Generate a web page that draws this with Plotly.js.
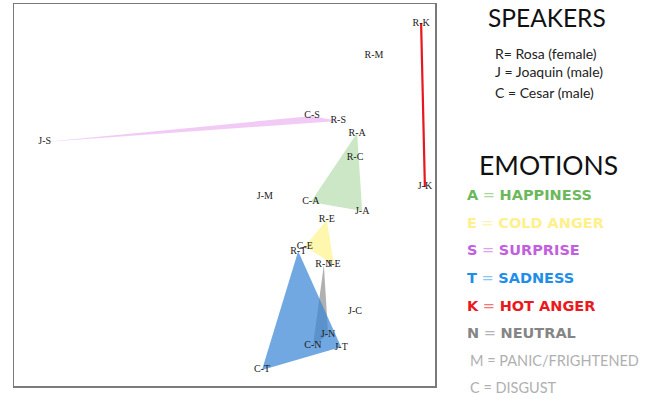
<!DOCTYPE html>
<html>
<head>
<meta charset="utf-8">
<script src="https://cdn.plot.ly/plotly-3.0.1.min.js"></script>
<style>
  body { margin: 0; background: #fff; }
  #myDiv { width: 658px; height: 399px; }
</style>
</head>
<body>
<div id="myDiv"></div>
<script>
// speaker-emotion points (arbitrary units)
var labels = ["R-K", "R-M", "C-S", "R-S", "R-A", "J-S", "R-C", "J-K", "J-M", "C-A", "J-A",
  "R-E", "C-E", "R-T", "R-N", "J-E", "J-C", "J-N", "C-N", "J-T", "C-T"];
var xs = [96.7, 85.5, 70.8, 77.0, 81.5, 7.3, 81.0, 97.6, 59.6, 70.5, 82.7,
  74.3, 69.1, 67.5, 73.6, 76.0, 81.0, 74.6, 71.0, 77.7, 58.9];
var ys = [95.0, 86.4, 70.7, 69.4, 66.2, 63.9, 59.9, 52.1, 49.7, 48.2, 45.8,
  43.5, 36.6, 35.3, 31.7, 31.7, 19.6, 13.6, 10.5, 10.2, 4.2];

// emotion groups: which points make each shape
var happiness = ["R-A", "C-A", "J-A"];
var coldAnger = ["R-E", "C-E", "J-E"];
var surprise = ["J-S", "C-S", "R-S"];
var neutral = ["R-N", "C-N", "J-N"];
var sadness = ["R-T", "C-T", "J-T"];
var hotAnger = ["R-K", "J-K"];

function pts(names) {
  var px = [], py = [];
  for (var i = 0; i < names.length; i++) {
    var k = labels.indexOf(names[i]);
    px.push(xs[k]);
    py.push(ys[k]);
  }
  return { x: px, y: py };
}

function shape(names, color) {
  var p = pts(names);
  return {
    x: p.x, y: p.y,
    mode: "lines",
    type: "scatter",
    fill: "toself",
    fillcolor: color,
    line: { width: 0, color: color },
    hoverinfo: "skip"
  };
}

var k = pts(hotAnger);
var data = [
  shape(surprise, "rgba(236,185,243,0.75)"),
  shape(happiness, "rgba(160,212,150,0.55)"),
  shape(coldAnger, "rgba(255,242,130,0.65)"),
  shape(neutral, "rgba(150,150,150,0.75)"),
  shape(sadness, "rgba(60,135,215,0.72)"),
  {
    x: k.x, y: k.y,
    mode: "lines",
    type: "scatter",
    line: { color: "#e8161e", width: 2.2 },
    hoverinfo: "skip"
  },
  {
    x: xs, y: ys, text: labels,
    mode: "text",
    type: "scatter",
    textposition: "middle center",
    textfont: { family: "Liberation Serif", size: 10, color: "#1a1a1a" }
  }
];

var gill = "Lato, 'Open Sans', sans-serif";
var wide = "'DejaVu Sans', sans-serif";
function note(txt, x, y, size, color, xanchor, fam) {
  return {
    text: txt, xref: "paper", yref: "paper",
    x: x, y: y, xanchor: xanchor || "left", yanchor: "middle",
    showarrow: false,
    font: { family: fam || gill, size: size, color: color }
  };
}
// paper coords: plot area spans px 14..435 (x) and 4..386 (y)
function px(v) { return (v - 14) / 421; }
function py(v) { return (386 - v) / 382; }

var layout = {
  width: 658,
  height: 399,
  margin: { l: 14, r: 223, t: 4, b: 13 },
  paper_bgcolor: "#fff",
  plot_bgcolor: "#fff",
  showlegend: false,
  xaxis: {
    range: [0, 100], showgrid: false, zeroline: false,
    showticklabels: false, ticks: "",
    showline: true, mirror: true, linecolor: "#7a7a7a", linewidth: 1.5
  },
  yaxis: {
    range: [0, 100], showgrid: false, zeroline: false,
    showticklabels: false, ticks: "",
    showline: true, mirror: true, linecolor: "#7a7a7a", linewidth: 1.5
  },
  annotations: [
    note("SPEAKERS", px(547), py(18), 24.5, "#111", "center"),
    note("R= Rosa (female)", px(493), py(53), 14, "#222"),
    note("J = Joaquin (male)", px(493), py(72), 14, "#222"),
    note("C = Cesar (male)", px(493), py(92), 14, "#222"),
    note("EMOTIONS", px(548), py(165), 26.5, "#111", "center"),
    note("<b>A</b> <span style='color:#a8d89c'>=</span> <b>HAPPINESS</b>", px(465), py(195), 14.5, "#6cb85c", "left", wide),
    note("<b>E</b> <span style='color:#fff3b0'>=</span> <b>COLD ANGER</b>", px(465), py(223), 14.5, "#fff08c", "left", wide),
    note("<b>S</b> <span style='color:#dca3ec'>=</span> <b>SURPRISE</b>", px(465), py(250), 14.5, "#c25ee0", "left", wide),
    note("<b>T</b> <span style='color:#8cc4f2'>=</span> <b>SADNESS</b>", px(465), py(278), 14.5, "#1f8ee8", "left", wide),
    note("<b>K</b> <span style='color:#f0787c'>=</span> <b>HOT ANGER</b>", px(465), py(306), 14.5, "#ec1820", "left", wide),
    note("<b>N</b> <span style='color:#b5b5b5'>=</span> <b>NEUTRAL</b>", px(465), py(333), 14.5, "#858585", "left", wide),
    note("M = PANIC/FRIGHTENED", px(468), py(360), 14.5, "#b0b0b0"),
    note("C = DISGUST", px(468), py(387), 14.5, "#b0b0b0")
  ]
};

Plotly.newPlot("myDiv", data, layout, { displayModeBar: false, staticPlot: true });
</script>
</body>
</html>
